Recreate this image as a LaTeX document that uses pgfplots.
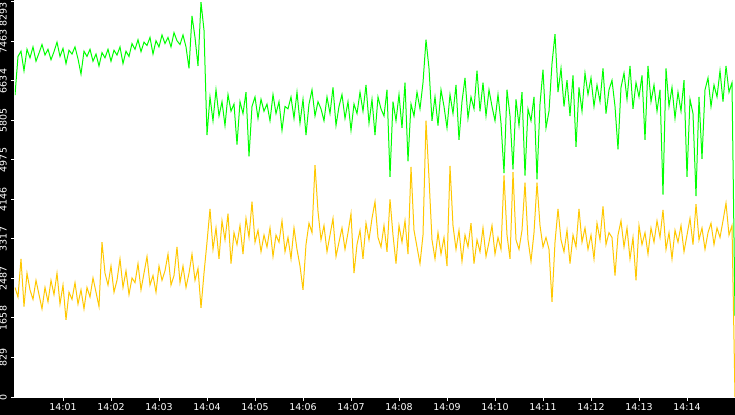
\documentclass[border=0pt]{standalone}
\usepackage{fontspec}
\setmainfont{DejaVu Sans}
\usepackage{pgfplots}
\pgfplotsset{compat=1.18}
\usepackage{pgfplotstable}
\definecolor{lgreen}{RGB}{0,255,0}
\definecolor{lyellow}{RGB}{255,200,0}

% one value every 3.75 s from 14:00 to 14:15
\pgfplotstableread[row sep=\\]{v\\
6340\\ 7150\\ 7260\\ 6850\\ 7300\\ 7120\\ 7350\\ 7050\\ 7220\\ 7400\\
7180\\ 7300\\ 7080\\ 7250\\ 7450\\ 7150\\ 7320\\ 7000\\ 7280\\ 7200\\
7350\\ 7100\\ 6780\\ 7260\\ 7150\\ 7300\\ 7050\\ 7200\\ 6950\\ 7230\\
7120\\ 7300\\ 7050\\ 7280\\ 7180\\ 7350\\ 7000\\ 7260\\ 7150\\ 7420\\
7300\\ 7500\\ 7250\\ 7450\\ 7380\\ 7550\\ 7200\\ 7480\\ 7350\\ 7600\\
7420\\ 7550\\ 7350\\ 7650\\ 7480\\ 7400\\ 7600\\ 7350\\ 6900\\ 8000\\
7550\\ 6950\\ 8290\\ 7700\\
5500\\ 6300\\ 5800\\ 6450\\ 5900\\ 6200\\ 5700\\ 6350\\ 6000\\ 6150\\
5300\\ 6200\\ 5950\\ 6400\\ 5050\\ 6100\\ 6300\\ 5850\\ 6250\\ 6000\\
6150\\ 5800\\ 6350\\ 5950\\ 6200\\ 5600\\ 6100\\ 6050\\ 6300\\ 5850\\
6400\\ 5750\\ 6250\\ 5500\\ 6150\\ 6450\\ 5900\\ 6200\\ 6050\\ 5800\\
6300\\ 5950\\ 6500\\ 5700\\ 6100\\ 6350\\ 5850\\ 6200\\ 5600\\ 6150\\
5950\\ 6400\\ 6000\\ 6550\\ 5750\\ 6250\\ 5500\\ 6300\\ 6050\\ 5900\\
6450\\ 4620\\ 6200\\ 5800\\ 6350\\ 5650\\ 6600\\ 4950\\ 6150\\ 5900\\
6400\\ 6050\\ 6600\\ 7500\\ 6900\\ 5800\\ 6300\\
5700\\ 6450\\ 6100\\ 5650\\ 6350\\ 5950\\ 6550\\ 5400\\ 6200\\ 6700\\
5850\\ 6300\\ 6050\\ 6850\\ 6000\\ 6600\\ 5900\\ 6450\\ 6100\\ 5800\\
6350\\ 5750\\ 4700\\ 6450\\ 5900\\ 4780\\ 6250\\ 5700\\ 6400\\ 4650\\
6050\\ 5800\\ 6300\\ 4570\\ 6150\\ 6870\\ 5650\\ 6000\\ 7000\\ 7620\\
6400\\ 6900\\ 6100\\ 6650\\ 5900\\ 6750\\ 5250\\ 6500\\ 6000\\ 6800\\
6350\\ 6700\\ 6100\\ 6550\\ 6200\\ 6900\\ 5950\\ 6450\\ 6650\\ 6100\\
5200\\ 6500\\ 6800\\ 6250\\ 6950\\ 6050\\ 6600\\ 6300\\ 6750\\ 5400\\
6950\\ 6200\\ 6550\\ 6000\\ 6450\\ 4250\\ 6900\\ 6100\\ 6500\\ 5850\\
6400\\ 6000\\ 6650\\ 4620\\ 6250\\ 5950\\ 4220\\ 6300\\ 5000\\ 6450\\
6700\\ 6100\\ 6550\\ 6300\\ 6850\\ 6200\\ 6950\\ 6400\\ 6600\\ 1700\\
}\greendata

\pgfplotstableread[row sep=\\]{v\\
2300\\ 2100\\ 2900\\ 1900\\ 2600\\ 2250\\ 2050\\ 2450\\ 2150\\ 1850\\
2300\\ 2000\\ 2450\\ 2150\\ 2600\\ 1950\\ 2350\\ 1620\\ 2200\\ 2050\\
2400\\ 1950\\ 2250\\ 1850\\ 2300\\ 2100\\ 2500\\ 2200\\ 1900\\ 3250\\
2600\\ 2350\\ 2750\\ 2200\\ 2450\\ 2900\\ 2300\\ 2650\\ 2150\\ 2500\\
2400\\ 2800\\ 2250\\ 2600\\ 2950\\ 2350\\ 2550\\ 2200\\ 2750\\ 2450\\
2650\\ 3000\\ 2350\\ 2550\\ 3150\\ 2400\\ 2750\\ 2300\\ 2600\\ 3000\\
2450\\ 2700\\ 1870\\ 2600\\
3250\\ 3950\\ 3100\\ 3550\\ 2900\\ 3700\\ 3300\\ 3850\\ 2800\\ 3450\\
3200\\ 3600\\ 3000\\ 3750\\ 3350\\ 4100\\ 3250\\ 3500\\ 3050\\ 3400\\
3150\\ 3550\\ 2950\\ 3400\\ 3250\\ 3700\\ 3050\\ 3350\\ 2900\\ 3550\\
3100\\ 2750\\ 2250\\ 3200\\ 3650\\ 3450\\ 4870\\ 3900\\ 3300\\ 3600\\
3050\\ 3400\\ 3750\\ 2950\\ 3250\\ 3550\\ 3100\\ 3450\\ 3850\\ 2600\\
3200\\ 3500\\ 2900\\ 3650\\ 3300\\ 3750\\ 4100\\ 3350\\ 3150\\ 3600\\
3050\\ 4150\\ 3400\\ 2800\\ 3600\\ 3250\\ 3700\\ 3000\\ 4830\\ 3500\\
3150\\ 2800\\ 3400\\ 5800\\ 4600\\ 3300\\ 2900\\
3450\\ 3000\\ 3350\\ 2750\\ 4850\\ 3600\\ 3100\\ 3500\\ 2850\\ 3400\\
3150\\ 3650\\ 2800\\ 3300\\ 3050\\ 3550\\ 2950\\ 3250\\ 3600\\ 3000\\
3350\\ 3100\\ 4650\\ 3400\\ 2900\\ 4720\\ 3300\\ 3100\\ 3500\\ 4500\\
3300\\ 2850\\ 3450\\ 4500\\ 3600\\ 3150\\ 3350\\ 3100\\ 2000\\ 3250\\
3950\\ 3300\\ 3050\\ 3500\\ 2800\\ 3400\\ 3150\\ 3950\\ 3250\\ 3550\\
3100\\ 3400\\ 2900\\ 3650\\ 3300\\ 4000\\ 3200\\ 3450\\ 3350\\ 2550\\
3400\\ 3700\\ 3150\\ 3550\\ 2900\\ 3350\\ 2450\\ 3600\\ 3200\\ 3450\\
3000\\ 3550\\ 3250\\ 3700\\ 3350\\ 3930\\ 3100\\ 3450\\ 2900\\ 3500\\
3250\\ 3600\\ 3050\\ 3400\\ 3750\\ 3200\\ 4050\\ 3300\\ 3550\\ 3100\\
3450\\ 3650\\ 3200\\ 3550\\ 3350\\ 3700\\ 4070\\ 3400\\ 3600\\ 0\\
}\yellowdata

\begin{document}
\begin{tikzpicture}
\fill[black] (-15bp,-18bp) rectangle (720bp,397bp);
\begin{axis}[
    at={(0,0)}, anchor=south west,
    scale only axis, width=720bp, height=397bp,
    xmin=0, xmax=15, ymin=0, ymax=8335,
    axis background/.style={fill=white},
    axis x line*=bottom, axis y line*=left,
    axis line style={white, line width=1.2bp, -},
    tick style={white, line width=1bp},
    tick align=outside, major tick length=4bp,
    xtick={1,...,14},
    xticklabels={14:01,14:02,14:03,14:04,14:05,14:06,14:07,14:08,14:09,14:10,14:11,14:12,14:13,14:14},
    ytick={0,829.3,1658.6,2487.9,3317.2,4146.5,4975.8,5805.1,6634.4,7463.7},
    yticklabels={0,829,1658,2487,3317,4146,4975,5805,6634,7463},
    extra y ticks={8293}, extra y tick labels={8293},
    extra y tick style={yticklabel style={anchor=south east}},
    ticklabel style={font=\fontsize{9.5}{10}\selectfont, text=white, inner sep=0pt},
    xticklabel style={anchor=north, yshift=-2bp},
    yticklabel style={xshift=-4bp, rotate=90, anchor=south},
  ]
\addplot[lyellow, line width=1bp, no marks] table[x expr=\coordindex/16, y index=0] {\yellowdata};
\addplot[lgreen, line width=1bp, no marks] table[x expr=\coordindex/16, y index=0] {\greendata};
\end{axis}
\pgfresetboundingbox
\path[use as bounding box] (-15bp,-18bp) rectangle (720bp,397bp);
\end{tikzpicture}
\end{document}
